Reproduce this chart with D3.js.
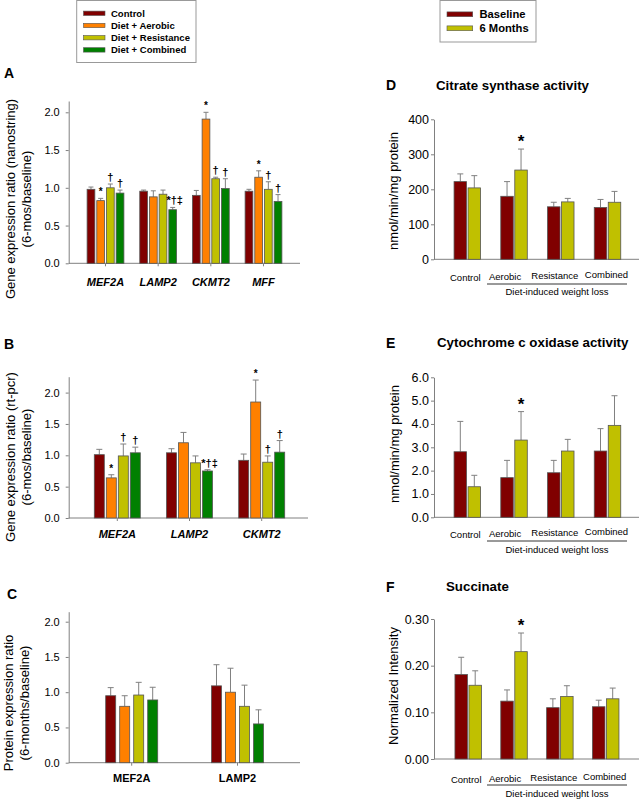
<!DOCTYPE html>
<html><head><meta charset="utf-8">
<script src="https://cdn.jsdelivr.net/npm/d3@7"></script>
<style>
body{margin:0;background:#fff;}
svg{display:block;font-family:"Liberation Sans",Arial,sans-serif;}
</style>
</head><body>
<svg id="chart" width="641" height="799"></svg>
<script>
// ---------- DATA ----------
const groupNames = ["Control", "Diet + Aerobic", "Diet + Resistance", "Diet + Combined"];
const groupColors = ["#800000", "#ff8000", "#c0c000", "#008000"];
const timeNames = ["Baseline", "6 Months"];
const timeColors = ["#800000", "#c0c000"];

// Panel A: gene expression ratio (nanostring)
const genesA = ["MEF2A", "LAMP2", "CKMT2", "MFF"];
const aControl = [0.98, 0.955, 0.90, 0.955];
const aControlErr = [0.03, 0.015, 0.065, 0.025];
const aAerobic = [0.83, 0.88, 1.91, 1.14];
const aAerobicErr = [0.03, 0.08, 0.09, 0.085];
const aResist = [1.00, 0.915, 1.12, 0.98];
const aResistErr = [0.05, 0.055, 0.02, 0.10];
const aCombined = [0.93, 0.71, 0.99, 0.82];
const aCombinedErr = [0.04, 0.03, 0.13, 0.09];
const aAnnControl = ["", "", "", ""];
const aAnnAerobic = ["*", "", "*", "*"];
const aAnnResist = ["†", "", "†", "†"];
const aAnnCombined = ["†", "*†‡", "†", "†"];
const ticksABC = [0, 0.5, 1.0, 1.5, 2.0];

// Panel B: gene expression ratio (rt-pcr)
const genesB = ["MEF2A", "LAMP2", "CKMT2"];
const bControl = [1.01, 1.04, 0.92];
const bControlErr = [0.085, 0.065, 0.10];
const bAerobic = [0.64, 1.20, 1.85];
const bAerobicErr = [0.05, 0.165, 0.35];
const bResist = [0.99, 0.88, 0.89];
const bResistErr = [0.19, 0.11, 0.10];
const bCombined = [1.04, 0.75, 1.05];
const bCombinedErr = [0.09, 0.02, 0.185];
const bAnnControl = ["", "", ""];
const bAnnAerobic = ["*", "", "*"];
const bAnnResist = ["†", "", "†"];
const bAnnCombined = ["†", "*†‡", "†"];

// Panel C: protein expression ratio
const proteinsC = ["MEF2A", "LAMP2"];
const cControl = [0.95, 1.09];
const cControlErr = [0.115, 0.30];
const cAerobic = [0.80, 1.00];
const cAerobicErr = [0.15, 0.34];
const cResist = [0.96, 0.80];
const cResistErr = [0.18, 0.30];
const cCombined = [0.89, 0.55];
const cCombinedErr = [0.18, 0.20];

// Right panels
const interventions = ["Control", "Aerobic", "Resistance", "Combined"];
const dBaseline = [222, 180, 150, 148];
const dBaselineErr = [22, 42, 13, 23];
const d6mo = [204, 255, 164, 163];
const d6moErr = [35, 60, 10, 31];
const dTicks = [0, 100, 200, 300, 400];

const eBaseline = [2.81, 1.70, 1.91, 2.84];
const eBaselineErr = [1.30, 0.74, 0.53, 0.96];
const e6mo = [1.31, 3.31, 2.84, 3.94];
const e6moErr = [0.49, 1.22, 0.50, 1.27];
const eTicks = [0, 1, 2, 3, 4, 5, 6];

const fBaseline = [0.181, 0.124, 0.110, 0.112];
const fBaselineErr = [0.037, 0.024, 0.019, 0.014];
const f6mo = [0.158, 0.230, 0.134, 0.129];
const f6moErr = [0.031, 0.040, 0.023, 0.023];
const fTicks = [0, 0.1, 0.2, 0.3];

const annBaseline = ["", "", "", ""];
const ann6mo = ["", "*", "", ""];

// ---------- DRAWING ----------
const svg = d3.select("#chart");
svg.append("rect").attr("width", 641).attr("height", 799).attr("fill", "#fff");
const AXIS = "#808080";

function drawPanel(o) {
  const g = svg.append("g");
  const x = d3.scalePoint().domain(o.cats).range(o.catRange);
  const xs = d3.scaleBand().domain(d3.range(o.series.length))
    .range([-o.span / 2, o.span / 2]).paddingInner(o.pad).paddingOuter(0);
  const y = d3.scaleLinear().domain([0, o.ymax]).range([o.y0, o.yTop]);

  // y axis
  const ya = g.append("g").attr("transform", `translate(${o.x0},0)`)
    .call(d3.axisLeft(y).tickValues(o.ticks).tickFormat(d3.format(o.fmt))
      .tickSize(3).tickSizeOuter(0).tickPadding(o.tickPad));
  ya.selectAll("path,line").attr("stroke", AXIS);
  ya.selectAll("text").attr("font-size", o.tickFont).attr("fill", "#000")
    .attr("font-family", '"Liberation Sans",Arial,sans-serif');

  // x axis line
  g.append("line").attr("x1", o.x0).attr("x2", o.x1).attr("y1", o.y0).attr("y2", o.y0)
    .attr("stroke", AXIS).attr("stroke-width", 1);
  if (o.catTicks) {
    g.selectAll(".ct").data(o.cats).join("line")
      .attr("x1", d => x(d)).attr("x2", d => x(d))
      .attr("y1", o.y0).attr("y2", o.y0 + 3).attr("stroke", AXIS);
  }

  // bars
  o.series.forEach((s, i) => {
    const bw = xs.bandwidth();
    o.cats.forEach((c, j) => {
      const bx = x(c) + xs(i);
      const v = s.mean[j], e = s.err[j];
      // error bar (upper only)
      const cx = bx + bw / 2;
      g.append("line").attr("x1", cx).attr("x2", cx)
        .attr("y1", y(v)).attr("y2", y(v + e)).attr("stroke", AXIS).attr("stroke-width", 1);
      g.append("line").attr("x1", cx - o.cap / 2).attr("x2", cx + o.cap / 2)
        .attr("y1", y(v + e)).attr("y2", y(v + e)).attr("stroke", AXIS).attr("stroke-width", 1);
      g.append("rect").attr("x", bx).attr("y", y(v)).attr("width", bw)
        .attr("height", o.y0 - y(v)).attr("fill", s.color)
        .attr("stroke", "#555").attr("stroke-width", 0.8);
      const a = s.ann[j];
      if (a) {
        g.append("text").attr("x", cx + (a.length > 1 ? 2 : 0)).attr("y", y(v + e) - o.annGap)
          .attr("text-anchor", "middle").attr("font-weight", "bold").attr("fill", "#000")
          .attr("font-size", a === "*" ? o.starFont : o.annFont).text(a);
      }
    });
  });

  // category labels
  g.selectAll(".cl").data(o.cats).join("text")
    .attr("x", (d, i) => x(d) + (o.labelShift ? o.labelShift[i] : 0))
    .attr("y", (d, i) => o.labelY + (o.labelDy ? o.labelDy[i] : 0))
    .attr("text-anchor", "middle").attr("fill", "#000")
    .attr("font-size", o.labelFont)
    .attr("font-weight", o.labelBold ? "bold" : "normal")
    .attr("font-style", o.labelItalic ? "italic" : "normal")
    .text(d => d);

  // y title
  o.yTitle.forEach((t, k) => {
    g.append("text")
      .attr("transform", `translate(${o.yTitleX[k]},${o.yTitleY}) rotate(-90)`)
      .attr("text-anchor", "middle").attr("dominant-baseline", "central")
      .attr("fill", "#000").attr("font-size", 13).text(t);
  });
  return { x, y, g };
}

function series4(means, errs, anns) {
  return means.map((m, i) => ({ mean: m, err: errs[i], ann: anns[i], color: groupColors[i] }));
}

// Panel A
drawPanel({
  cats: genesA, catRange: [105.5, 263.5], x0: 68.7, x1: 300, y0: 263.3, yTop: 101,
  ymax: (263.3 - 101) / 75.5, ticks: ticksABC, fmt: ".1f", tickFont: 11, tickPad: 6,
  span: 36.8, pad: 0.2, cap: 5, annGap: 3, starFont: 10, annFont: 11,
  series: series4([aControl, aAerobic, aResist, aCombined],
    [aControlErr, aAerobicErr, aResistErr, aCombinedErr],
    [aAnnControl, aAnnAerobic, aAnnResist, aAnnCombined]),
  labelY: 285.5, labelFont: 11, labelBold: true, labelItalic: true, catTicks: true,
  yTitle: ["Gene expression ratio (nanostring)", "(6-mos/baseline)"], yTitleX: [10, 26], yTitleY: 199
});

// Panel B
drawPanel({
  cats: genesB, catRange: [117.3, 261.7], x0: 68.7, x1: 308, y0: 518, yTop: 376.7,
  ymax: (518 - 376.7) / 62.7, ticks: ticksABC, fmt: ".1f", tickFont: 11, tickPad: 6,
  span: 46, pad: 0.167, cap: 6, annGap: 3, starFont: 10, annFont: 11,
  series: series4([bControl, bAerobic, bResist, bCombined],
    [bControlErr, bAerobicErr, bResistErr, bCombinedErr],
    [bAnnControl, bAnnAerobic, bAnnResist, bAnnCombined]),
  labelY: 537.5, labelFont: 11, labelBold: true, labelItalic: true, catTicks: true,
  yTitle: ["Gene expression ratio (rt-pcr)", "(6-mos/baseline)"], yTitleX: [10, 26], yTitleY: 457
});

// Panel C
drawPanel({
  cats: proteinsC, catRange: [131.7, 237.5], x0: 68.7, x1: 300, y0: 762.7, yTop: 611.7,
  ymax: (762.7 - 611.7) / 70.5, ticks: ticksABC, fmt: ".1f", tickFont: 11, tickPad: 6,
  span: 52, pad: 0.286, cap: 6, annGap: 3, starFont: 10, annFont: 11,
  series: series4([cControl, cAerobic, cResist, cCombined],
    [cControlErr, cAerobicErr, cResistErr, cCombinedErr],
    [["", ""], ["", ""], ["", ""], ["", ""]]),
  labelY: 781.5, labelFont: 11, labelBold: true, labelItalic: false, catTicks: true,
  yTitle: ["Protein expression ratio", "(6-months/baseline)"], yTitleX: [8, 24], yTitleY: 703
});

function series2(b, be, s, se) {
  return [
    { mean: b, err: be, ann: annBaseline, color: timeColors[0] },
    { mean: s, err: se, ann: ann6mo, color: timeColors[1] }
  ];
}

const rightCommon = {
  cats: interventions, x0: 434, x1: 639, tickFont: 12.5, tickPad: 2,
  span: 26.5, pad: 0.107, cap: 6, annGap: 2, starFont: 17, annFont: 17,
  labelFont: 9.5, labelBold: false, labelItalic: false, catTicks: false,
  labelShift: [-2, -9, -6, -1], labelDy: [2, 1, 0, -1]
};

function weightLoss(lineY, textY) {
  svg.append("line").attr("x1", 487).attr("x2", 627).attr("y1", lineY).attr("y2", lineY)
    .attr("stroke", "#000").attr("stroke-width", 0.8);
  svg.append("text").attr("x", 557).attr("y", textY).attr("text-anchor", "middle")
    .attr("fill", "#000").attr("font-size", 9.5).text("Diet-induced weight loss");
}

// Panel D
drawPanel(Object.assign({}, rightCommon, {
  catRange: [467.3, 607.5], y0: 259.3, yTop: 119.3, ymax: 400, ticks: dTicks, fmt: "d",
  series: series2(dBaseline, dBaselineErr, d6mo, d6moErr),
  labelY: 278.5, yTitle: ["nmol/min/mg protein"], yTitleX: [393], yTitleY: 191
}));
weightLoss(284, 295);

// Panel E
drawPanel(Object.assign({}, rightCommon, {
  catRange: [467.3, 607.5], y0: 517.3, yTop: 377.3, ymax: 6, ticks: eTicks, fmt: ".1f",
  series: series2(eBaseline, eBaselineErr, e6mo, e6moErr),
  labelY: 536, yTitle: ["nmol/min/mg protein"], yTitleX: [394], yTitleY: 444
}));
weightLoss(541, 552.5);

// Panel F
drawPanel(Object.assign({}, rightCommon, {
  catRange: [468.2, 605.7], y0: 759, yTop: 619, ymax: 0.3, ticks: fTicks, fmt: ".2f",
  series: series2(fBaseline, fBaselineErr, f6mo, f6moErr),
  labelY: 781, yTitle: ["Normalized Intensity"], yTitleX: [393], yTitleY: 686
}));
weightLoss(785, 796.5);

// Panel letters and titles
const letters = [["A", 4, 78], ["B", 4, 348.5], ["C", 7, 598.5], ["D", 386, 90], ["E", 386, 347.5], ["F", 386, 592]];
letters.forEach(([t, lx, ly]) => svg.append("text").attr("x", lx).attr("y", ly)
  .attr("fill", "#000").attr("font-size", 14).attr("font-weight", "bold").text(t));
const titles = [["Citrate synthase activity", 436, 90], ["Cytochrome c oxidase activity", 437, 346.5], ["Succinate", 446, 590.5]];
titles.forEach(([t, tx, ty]) => svg.append("text").attr("x", tx).attr("y", ty)
  .attr("fill", "#000").attr("font-size", 13.3).attr("font-weight", "bold").text(t));

// Legends
const lg1 = svg.append("g");
lg1.append("rect").attr("x", 76.7).attr("y", 0.5).attr("width", 119.3).attr("height", 62)
  .attr("fill", "#fff").attr("stroke", "#999").attr("stroke-width", 1);
groupNames.forEach((n, i) => {
  const ly = 13.3 + i * 12.2;
  lg1.append("rect").attr("x", 83.5).attr("y", ly - 2.2).attr("width", 21.5).attr("height", 4.4)
    .attr("fill", groupColors[i]).attr("stroke", "#555").attr("stroke-width", 0.6);
  lg1.append("text").attr("x", 111).attr("y", ly).attr("dominant-baseline", "central")
    .attr("fill", "#000").attr("font-size", 9.5).attr("font-weight", "bold").text(n);
});
const lg2 = svg.append("g");
lg2.append("rect").attr("x", 440).attr("y", 0.5).attr("width", 96).attr("height", 41.5)
  .attr("fill", "#fff").attr("stroke", "#999").attr("stroke-width", 1);
timeNames.forEach((n, i) => {
  const ly = 14.3 + i * 14;
  lg2.append("rect").attr("x", 447).attr("y", ly - 2.4).attr("width", 25.7).attr("height", 4.8)
    .attr("fill", timeColors[i]).attr("stroke", "#555").attr("stroke-width", 0.6);
  lg2.append("text").attr("x", 479.5).attr("y", ly).attr("dominant-baseline", "central")
    .attr("fill", "#000").attr("font-size", 11.2).attr("font-weight", "bold").text(n);
});
</script>
</body></html>
